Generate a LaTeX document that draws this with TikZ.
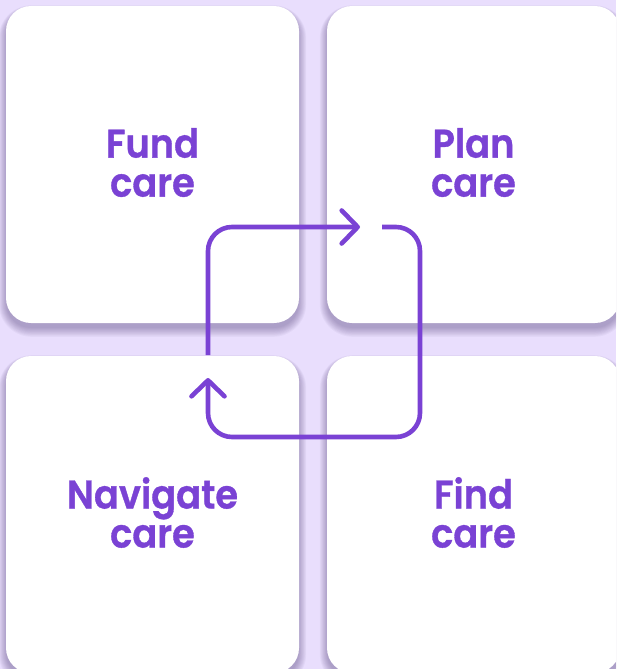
\documentclass[tikz,border=0pt]{standalone}
\usepackage{fontspec}
\newfontfamily\pf{Poppins SemiBold}[FakeStretch=0.92, FakeBold=0.8]
\usetikzlibrary{arrows.meta}
\definecolor{bg}{RGB}{233,222,253}
\definecolor{pur}{RGB}{122,66,212}
\definecolor{shd}{RGB}{60,40,100}
\tikzset{
  card/.style={fill=white, rounded corners=25pt, minimum width=293pt, minimum height=317pt, inner sep=0pt},
  lbl/.style={text=pur, align=center, font=\pf\fontsize{40}{39}\selectfont, inner sep=0pt, yshift=2pt},
  loop/.style={draw=pur, line width=4.6pt, rounded corners=24pt, line cap=butt},
  tip/.style={-{Straight Barb[length=16pt,width=33pt,round]}}
}
\begin{document}
\begin{tikzpicture}[x=1pt,y=-1pt]
\useasboundingbox (0,0) rectangle (616,669);
\clip (0,0) rectangle (616,669);
\fill[bg] (0,0) rectangle (616,669);
% soft shadows
\foreach \xa/\ya/\xb/\yb in {6/6/299/323, 327/6/620/323, 6/356/299/673, 327/356/620/673}{
  \foreach \i in {0,...,8}{
    \fill[shd, opacity=0.045, rounded corners={25pt+\i pt}]
      (\xa-\i*0.9, \ya+4-\i*0.6) rectangle (\xb+\i*0.9, \yb+5+\i*1.1);
  }
}
\node[card] (fund) at (152.5,164.5) {};
\node[card] (plan) at (473.5,164.5) {};
\node[card] (navigate) at (152.5,514.5) {};
\node[card] (find) at (473.5,514.5) {};
\node[lbl] (fundtxt) at (fund.center) {Fund\\care};
\node[lbl] (plantxt) at (plan.center) {Plan\\care};
\node[lbl] (navtxt) at (navigate.center) {Navigate\\care};
\node[lbl] (findtxt) at (find.center) {Find\\care};
% loop arrow
\coordinate (a1) at (208,355);
\coordinate (a2) at (208,227);
\coordinate (a3) at (360,227);
\coordinate (b1) at (382,227);
\coordinate (b2) at (420,227);
\coordinate (b3) at (420,437);
\coordinate (b4) at (208,437);
\coordinate (b5) at (208,378);
\draw[loop, tip] (a1) -- (a2) -- (a3);
\draw[loop, tip] (b1) -- (b2) -- (b3) -- (b4) -- (b5);
\end{tikzpicture}
\end{document}
